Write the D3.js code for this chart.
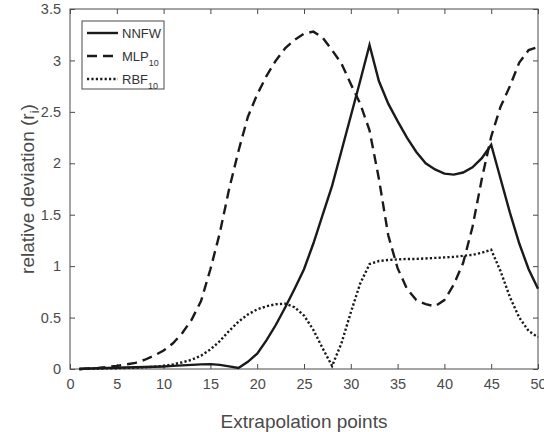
<!DOCTYPE html>
<html>
<head>
<meta charset="utf-8">
<script src="https://cdn.jsdelivr.net/npm/d3@7"></script>
<style>
  body { margin: 0; background: #fff; }
  text { font-family: "Liberation Sans", Arial, sans-serif; }
</style>
</head>
<body>
<div id="chart"></div>
<script>
// data, x = 1..50
var xs = d3.range(1, 51);
var nnfw = [0, 0.005, 0.008, 0.01, 0.012, 0.015, 0.017, 0.02, 0.022, 0.025,
  0.03, 0.035, 0.04, 0.045, 0.047, 0.04, 0.025, 0.01, 0.07, 0.15,
  0.28, 0.43, 0.6, 0.78, 0.97, 1.22, 1.5, 1.78, 2.12, 2.46,
  2.8, 3.15, 2.8, 2.58, 2.41, 2.25, 2.11, 2.0, 1.94, 1.9,
  1.89, 1.91, 1.96, 2.05, 2.18, 1.85, 1.52, 1.22, 0.97, 0.78];
var mlp = [0, 0.005, 0.01, 0.02, 0.03, 0.045, 0.06, 0.09, 0.13, 0.18,
  0.25, 0.35, 0.48, 0.66, 0.97, 1.32, 1.75, 2.12, 2.45, 2.67,
  2.85, 3.0, 3.12, 3.2, 3.26, 3.28, 3.22, 3.1, 2.97, 2.77,
  2.58, 2.32, 1.85, 1.3, 0.98, 0.78, 0.67, 0.63, 0.61, 0.67,
  0.82, 1.03, 1.38, 1.85, 2.26, 2.55, 2.75, 2.98, 3.1, 3.13];
var rbf = [0, 0.002, 0.004, 0.006, 0.008, 0.01, 0.013, 0.017, 0.022, 0.03,
  0.045, 0.065, 0.09, 0.13, 0.19, 0.27, 0.37, 0.46, 0.53, 0.58,
  0.61, 0.63, 0.635, 0.6, 0.52, 0.38, 0.2, 0.03, 0.25, 0.55,
  0.83, 1.02, 1.05, 1.06, 1.065, 1.07, 1.07, 1.075, 1.08, 1.085,
  1.09, 1.1, 1.11, 1.13, 1.16, 0.95, 0.7, 0.5, 0.37, 0.31];
var xTicks = d3.range(0, 51, 5);
var yTicks = [0, 0.5, 1, 1.5, 2, 2.5, 3, 3.5];

var svgWidth = 544, svgHeight = 432;
var margin = {top: 9, right: 6, bottom: 63, left: 70};
var width = svgWidth - margin.left - margin.right;
var height = svgHeight - margin.top - margin.bottom;

var svg = d3.select("#chart").append("svg")
  .attr("width", svgWidth)
  .attr("height", svgHeight);

var g = svg.append("g")
  .attr("transform", `translate(${margin.left}, ${margin.top})`);

var x = d3.scaleLinear().domain([0, 50]).range([0, width]);
var y = d3.scaleLinear().domain([0, 3.5]).range([height, 0]);

var axisColor = "#4a4a4a";
var tickLen = 5;

// frame
g.append("rect")
  .attr("width", width).attr("height", height)
  .attr("fill", "none").attr("stroke", axisColor).attr("stroke-width", 1);

// ticks, pointing inward on all four sides (box on)
var axBottom = g.append("g").attr("transform", `translate(0, ${height})`)
  .call(d3.axisBottom(x).tickValues(xTicks).tickSizeInner(-tickLen).tickSizeOuter(0).tickPadding(10));
var axLeft = g.append("g")
  .call(d3.axisLeft(y).tickValues(yTicks).tickFormat(d3.format("")).tickSizeInner(-tickLen).tickSizeOuter(0).tickPadding(9));
var axTop = g.append("g")
  .call(d3.axisTop(x).tickValues(xTicks).tickSizeInner(-tickLen).tickSizeOuter(0).tickFormat(""));
var axRight = g.append("g").attr("transform", `translate(${width}, 0)`)
  .call(d3.axisRight(y).tickValues(yTicks).tickSizeInner(-tickLen).tickSizeOuter(0).tickFormat(""));

[axBottom, axLeft, axTop, axRight].forEach(function(a) {
  a.select(".domain").remove();
  a.selectAll("line").attr("stroke", axisColor);
  a.selectAll("text").attr("fill", axisColor).style("font-size", "14.5px")
    .style("font-family", "'Liberation Sans', Arial, sans-serif");
});

// series
var series = [
  {name: "NNFW", sub: "", vals: nnfw, dash: null},
  {name: "MLP", sub: "10", vals: mlp, dash: "10,6"},
  {name: "RBF", sub: "10", vals: rbf, dash: "2.2,2.2"}
];

var line = d3.line()
  .x(function(d) { return x(d[0]); })
  .y(function(d) { return y(d[1]); });

series.forEach(function(s) {
  g.append("path")
    .datum(xs.map(function(v, i) { return [v, s.vals[i]]; }))
    .attr("d", line)
    .attr("fill", "none")
    .attr("stroke", "#1a1a1a")
    .attr("stroke-width", 2.4)
    .attr("stroke-dasharray", s.dash);
});

// legend
var lg = svg.append("g").attr("transform", "translate(82, 21)");
lg.append("rect").attr("width", 82).attr("height", 68)
  .attr("fill", "#fff").attr("stroke", axisColor).attr("stroke-width", 1);
series.forEach(function(s, i) {
  var yy = 12 + i * 23;
  lg.append("line").attr("x1", 5).attr("x2", 36).attr("y1", yy).attr("y2", yy)
    .attr("stroke", "#1a1a1a").attr("stroke-width", 2.4)
    .attr("stroke-dasharray", s.dash);
  var t = lg.append("text").attr("x", 40).attr("y", yy + 5)
    .attr("fill", "#333").style("font-size", "13px").text(s.name);
  if (s.sub) {
    t.append("tspan").attr("dy", 5).style("font-size", "9px").text(s.sub);
  }
});

// axis titles
svg.append("text")
  .attr("x", margin.left + width / 2).attr("y", 428)
  .attr("text-anchor", "middle").attr("fill", axisColor)
  .style("font-size", "19px").text("Extrapolation points");

var yl = svg.append("text")
  .attr("transform", `translate(34, ${margin.top + height / 2}) rotate(-90)`)
  .attr("text-anchor", "middle").attr("fill", axisColor)
  .style("font-size", "19px").text("relative deviation (r");
yl.append("tspan").attr("dy", 5).style("font-size", "13px").text("i");
yl.append("tspan").attr("dy", -5).text(")");
</script>
</body>
</html>
